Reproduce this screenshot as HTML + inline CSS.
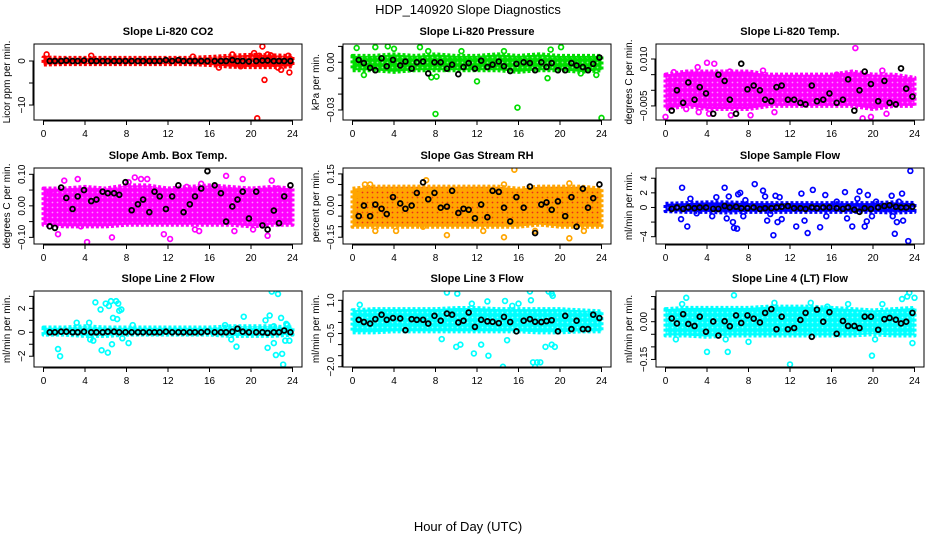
<!DOCTYPE html>
<html><head><meta charset="utf-8">
<style>
html,body{margin:0;padding:0;background:#fff;}
svg{display:block;font-family:"Liberation Sans",sans-serif;}
</style></head>
<body>
<svg id="chart" width="936" height="540" viewBox="0 0 936 540" xmlns="http://www.w3.org/2000/svg">
<defs id="defs"></defs>
<text x="468" y="14" text-anchor="middle" font-size="13">HDP_140920  Slope Diagnostics</text>
<text x="468" y="531" text-anchor="middle" font-size="13">Hour of Day (UTC)</text>
</svg>
<script>
// ---- shared data ----
const xTicks = [0,4,8,12,16,20,24];
const bandHours = [0,2,4,6,8,10,12,14,16,18,20,22,24];
const blackX = [0.6,1.1,1.7,2.2,2.8,3.3,3.9,4.6,5.1,5.7,6.2,6.8,7.3,7.9,8.5,9.1,9.6,10.2,10.7,11.2,11.8,12.4,13.0,13.5,14.1,14.6,15.2,15.8,16.5,17.1,17.6,18.2,18.7,19.2,19.8,20.5,21.1,21.6,22.2,22.7,23.2,23.8];

// ---- panel 1: CO2 ----
const p1BandLo = [-0.8,-0.7,-0.7,-0.7,-0.7,-0.7,-0.7,-0.7,-0.9,-1.3,-1.4,-1.4,-1.2];
const p1BandHi = [0.8,0.7,0.7,0.7,0.7,0.7,0.7,0.7,0.9,1.2,1.4,1.3,1.1];
const p1OutX = [0.3,4.6,14.4,16.9,18.2,19.0,20.3,20.6,20.8,21.1,21.3,21.6,21.9,22.6,22.9,23.6,23.7];
const p1OutY = [1.5,1.2,1.0,-1.5,1.5,-1.2,1.8,-13.0,1.2,3.3,-4.3,1.5,1.3,-1.5,-2.0,1.2,-2.6];
const p1BlackY = [0,0,0,0.1,0,0,0.1,0,0,0,0,0,0,0,0,0,0,0,0,0,0.2,0,0.2,0,0,0,0,0,0,0,0,0.2,0,0,-0.1,0,0.1,0.1,0,0,0,0];

// ---- panel 2: Pressure ----
const p2BandLo = [-0.005,-0.005,-0.006,-0.005,-0.005,-0.005,-0.005,-0.005,-0.006,-0.005,-0.005,-0.006,-0.005];
const p2BandHi = [0.004,0.004,0.005,0.004,0.005,0.004,0.004,0.005,0.004,0.005,0.004,0.004,0.004];
const p2OutX = [0.4,1.1,2.2,3.4,4.0,6.5,7.3,7.6,8.1,12.0,8.0,15.9,24.0,18.8,20.1,19.1,23.5,22.0,10.5,14.6];
const p2OutY = [0.009,-0.008,0.0095,0.010,0.0085,0.0095,0.007,-0.0095,-0.009,-0.012,-0.0325,-0.0285,-0.035,-0.010,0.0095,0.008,-0.008,-0.007,0.007,0.007];
const p2BlackY = [0.0015,-0.0005,-0.0035,-0.005,0.0025,-0.0025,0.0015,-0.002,0.0005,-0.004,0.0,0.0005,-0.007,0.0,0.0,-0.004,-0.0015,-0.0075,-0.003,-0.0005,-0.004,0.001,-0.003,-0.0015,0.0005,-0.0025,-0.0055,-0.001,0.0,-0.0005,-0.005,0.0,-0.003,-0.0005,-0.005,-0.005,-0.0005,-0.002,-0.003,-0.005,-0.001,0.003];

// ---- panel 3: Li-820 Temp ----
const p3BandLo = [-0.006,-0.005,-0.006,-0.006,-0.006,-0.005,-0.005,-0.005,-0.005,-0.005,-0.006,-0.005,-0.005];
const p3BandHi = [0.005,0.006,0.006,0.006,0.006,0.005,0.005,0.005,0.005,0.006,0.005,0.005,0.004];
const p3OutX = [0.0,0.8,2.0,3.1,3.2,4.0,4.2,4.7,6.2,6.3,8.2,9.4,10.5,16.5,18.3,19.0,19.8,20.9,21.3];
const p3OutY = [-0.0085,0.0058,-0.006,0.0074,-0.007,0.0088,-0.0075,0.0085,0.006,-0.008,-0.008,0.0063,-0.007,0.005,0.0135,-0.009,-0.0085,0.0063,-0.0075];
const p3BlackY = [-0.0065,0.0,-0.004,0.0025,-0.003,0.001,-0.001,-0.0075,0.005,0.003,-0.003,-0.0075,0.0085,0.0003,0.0015,0.0,-0.003,-0.0035,0.001,0.0015,-0.003,-0.003,-0.004,-0.0045,0.0015,-0.0035,-0.003,-0.001,-0.004,-0.003,0.0035,-0.0065,0.0,0.006,0.002,-0.0035,0.003,-0.004,-0.0045,0.007,0.0005,-0.002];

// ---- panel 4: Amb. Box Temp ----
const p4BandLo = [-0.06,-0.065,-0.065,-0.065,-0.06,-0.06,-0.06,-0.06,-0.06,-0.06,-0.065,-0.06,-0.06];
const p4BandHi = [0.055,0.055,0.06,0.055,0.065,0.065,0.055,0.06,0.065,0.06,0.055,0.06,0.055];
const p4OutX = [0.6,1.4,2.0,3.3,3.6,4.2,6.6,8.8,9.4,10.0,11.6,12.2,14.6,15.0,15.2,17.6,18.4,19.2,20.2,21.6,22.0,22.6,8.2,13.8];
const p4OutY = [0.045,-0.09,0.08,0.085,-0.065,-0.115,-0.1,0.09,0.085,0.085,-0.09,-0.105,-0.075,-0.08,0.07,0.095,-0.08,0.085,-0.075,-0.095,0.08,0.055,0.075,0.06];
const p4BlackY = [-0.065,-0.07,0.058,0.025,-0.01,0.03,0.05,0.015,0.02,0.045,0.04,0.04,0.035,0.075,-0.014,0.005,0.02,-0.02,0.045,0.03,-0.01,0.03,0.065,-0.02,0.005,0.03,0.055,0.11,0.065,0.04,-0.05,-0.002,0.02,0.045,-0.04,0.045,-0.062,-0.075,-0.015,-0.055,0.03,0.065];

// ---- panel 5: Gas Stream RH ----
const p5BandLo = [-0.1,-0.1,-0.1,-0.1,-0.1,-0.1,-0.1,-0.1,-0.1,-0.09,-0.1,-0.1,-0.1];
const p5BandHi = [0.08,0.09,0.09,0.09,0.09,0.09,0.09,0.09,0.08,0.09,0.09,0.09,0.08];
const p5OutX = [0.5,1.2,1.7,2.2,4.2,6.8,7.1,9.1,12.6,14.6,14.6,15.6,17.6,20.9,20.9,22.3];
const p5OutY = [0.05,0.1,0.1,-0.12,-0.12,-0.1,0.12,-0.14,-0.12,0.1,-0.15,0.17,-0.12,0.105,-0.155,-0.12];
const p5BlackY = [-0.05,0.0,-0.05,0.005,-0.015,-0.04,0.04,0.01,-0.015,0.0,0.06,0.11,0.03,0.06,-0.01,-0.005,0.07,-0.035,-0.015,-0.02,-0.06,0.005,-0.055,0.07,0.065,-0.01,-0.075,0.04,-0.01,0.09,-0.13,0.005,0.015,-0.02,0.02,-0.05,0.04,-0.1,0.08,-0.01,0.035,0.1];

// ---- panel 6: Sample Flow ----
const p6BandLo = [-0.5,-0.6,-0.6,-0.7,-0.6,-0.6,-0.6,-0.6,-0.6,-0.6,-0.6,-0.7,-0.6];
const p6BandHi = [0.5,0.6,0.7,0.7,0.6,0.6,0.6,0.6,0.6,0.6,0.6,0.7,0.6];
const p6OutX = [1.5,1.6,2.1,2.4,3.0,4.5,4.9,5.7,5.9,6.1,6.5,6.6,6.9,7.0,7.2,7.5,7.7,8.6,9.4,9.6,9.8,10.1,10.4,10.6,10.8,11.0,11.2,12.6,13.1,13.4,13.7,14.2,14.9,15.4,15.5,16.5,17.3,17.5,18.0,18.5,18.7,19.2,19.4,19.5,19.9,20.3,21.8,21.9,22.1,22.3,22.5,22.8,22.9,23.4,23.6];
const p6OutY = [-1.6,2.7,-2.6,1.2,-0.8,-1.2,1.4,2.7,-1.5,1.5,-2.0,-2.8,-2.9,1.8,2.0,-1.2,1.0,3.2,2.3,1.5,-1.8,-0.9,-3.8,1.6,-2.0,1.4,-1.6,-2.6,1.9,-1.8,-3.5,2.4,-2.7,1.7,-1.2,0.8,2.1,-1.5,-2.6,1.2,2.2,-2.6,-1.9,1.7,-1.2,0.8,1.6,-1.2,-3.6,-2.0,0.8,1.9,-1.8,-4.6,5.0];
const p6BlackY = [-0.2,0.0,-0.2,0.0,-0.1,0.0,0.0,-0.2,-0.2,0.2,0.0,0.1,-0.1,-0.1,0.0,-0.2,-0.1,-0.1,0.0,0.1,0.2,-0.1,-0.1,-0.2,0.0,-0.1,0.0,0.0,-0.1,-0.2,0.0,-0.3,-0.6,-0.1,-0.2,0.0,0.2,0.3,0.1,0.0,0.0,0.1];

// ---- panel 7: Line 2 Flow ----
const p7BandLo = [-0.2,-0.2,-0.3,-0.3,-0.2,-0.2,-0.2,-0.2,-0.2,-0.3,-0.3,-0.3,-0.2];
const p7BandHi = [0.4,0.4,0.5,0.4,0.4,0.4,0.4,0.4,0.4,0.5,0.5,0.5,0.4];
const p7OutX = [1.4,1.6,3.2,4.4,4.5,4.8,5.0,5.5,5.6,6.0,6.2,6.3,6.5,6.6,6.7,7.0,7.1,7.2,7.3,7.5,7.6,8.2,8.6,17.5,18.1,18.6,19.3,21.4,21.6,21.8,22.0,22.2,22.2,22.4,22.6,22.9,23.0,23.1,23.3,23.4,23.5,23.7];
const p7OutY = [-1.4,-2.0,0.8,0.8,-0.6,-0.7,2.5,1.9,-1.5,2.4,-1.7,2.2,2.6,-1.0,1.2,2.6,1.1,2.4,1.8,1.9,-0.5,-0.9,0.6,0.6,-0.6,-1.2,1.3,1.0,-1.3,1.4,3.4,-0.9,0.5,-1.9,3.2,1.2,-1.8,-2.7,-0.7,0.7,0.6,-0.7];
const p7BlackY = [0,0,0.05,0.05,0,0,0.05,0,0,0,0.05,0.05,0,0,0,0,0,0,0,0,0.05,0,0,0,0,0,0,0.05,0,0,0,0.05,0.3,0.05,0,0,0,-0.05,0,0,0.15,0];

// ---- panel 8: Line 3 Flow ----
const p8BandLo = [-0.45,-0.45,-0.4,-0.4,-0.4,-0.4,-0.4,-0.4,-0.4,-0.45,-0.45,-0.4,-0.4];
const p8BandHi = [0.55,0.6,0.6,0.6,0.6,0.65,0.65,0.6,0.6,0.6,0.6,0.55,0.5];
const p8OutX = [0.7,8.6,9.1,10.0,10.1,10.4,11.5,11.7,12.4,13.0,13.1,14.5,14.7,14.9,15.4,16.0,17.1,17.2,17.4,17.6,17.8,18.1,18.4,18.6,18.9,19.2,19.2,19.3,19.5];
const p8OutY = [0.8,-0.75,1.35,-1.1,1.3,-1.0,0.85,-1.4,-1.0,0.95,-1.5,-2.0,0.97,-0.8,0.75,0.85,1.4,1.0,-1.8,-2.0,-1.8,-1.8,-2.2,-1.1,1.4,1.3,-1.0,1.2,-1.1];
const p8BlackY = [0.12,0.02,-0.05,0.15,0.35,0.12,0.2,0.18,-0.35,0.15,0.12,0.12,-0.05,0.3,0.08,0.4,0.35,0.0,0.08,0.45,-0.2,0.12,0.05,0.03,-0.03,0.25,0.02,-0.4,0.08,0.15,0.03,0.02,0.06,0.1,-0.4,0.3,-0.3,0.08,-0.3,-0.3,0.35,0.2];

// ---- panel 9: Line 4 (LT) Flow ----
const p9BandLo = [-0.055,-0.055,-0.06,-0.055,-0.055,-0.055,-0.055,-0.055,-0.055,-0.055,-0.05,-0.055,-0.055];
const p9BandHi = [0.05,0.055,0.055,0.055,0.055,0.06,0.06,0.06,0.055,0.05,0.045,0.05,0.055];
const p9OutX = [1.0,1.6,2.0,4.0,5.8,6.0,6.6,8.0,10.5,12.0,14.0,15.6,17.6,19.9,20.2,20.9,22.8,23.3,23.5,23.8,24.0];
const p9OutY = [-0.07,0.07,0.095,-0.12,-0.07,-0.12,0.105,-0.08,0.075,-0.17,0.075,0.06,0.07,-0.135,-0.07,0.07,0.09,0.10,0.115,-0.085,0.095];
const p9BlackY = [0.013,-0.007,0.03,-0.009,-0.017,0.02,-0.04,0.001,-0.055,0.002,-0.018,0.025,-0.005,0.025,0.012,-0.003,0.035,0.05,-0.03,0.02,-0.03,-0.025,0.007,0.035,-0.06,0.048,0.0,0.038,-0.048,0.003,-0.017,-0.017,-0.025,0.02,0.02,-0.032,0.01,0.015,0.008,-0.007,0.0,0.035];

// ---- layout (presentation only) ----
const SVGNS = "http://www.w3.org/2000/svg";
const svg = document.getElementById('chart');
const defs = document.getElementById('defs');
const colLeft = [34, 343, 656];
const rowTop = [44, 168, 291];
const boxW = 268, boxH = 76;

const panels = [
 {name:'co2', title:'Slope Li-820 CO2', ylab:'Licor ppm per min.', col:0,row:0, ymin:-13.4, ymax:3.86, ticks:[-10,-5,0], labels:{'-10':'\u221210','0':'0'}, color:'#ff0000', dot:'#ff0000', lo:p1BandLo, hi:p1BandHi, ox:p1OutX, oy:p1OutY, by:p1BlackY},
 {name:'pressure', title:'Slope Li-820 Pressure', ylab:'kPa per min.', col:1,row:0, ymin:-0.0363, ymax:0.0115, ticks:[-0.03,-0.02,-0.01,0,0.01], labels:{'-0.03':'\u22120.03','0':'0.00'}, color:'#00dd00', dot:'#00cc00', lo:p2BandLo, hi:p2BandHi, ox:p2OutX, oy:p2OutY, by:p2BlackY},
 {name:'li820-temp', title:'Slope Li-820 Temp.', ylab:'degrees C per min.', col:2,row:0, ymin:-0.0095, ymax:0.0148, ticks:[-0.005,0,0.005,0.01], labels:{'-0.005':'\u22120.005','0.01':'0.010'}, color:'#ff00ff', dot:'#ff00ff', lo:p3BandLo, hi:p3BandHi, ox:p3OutX, oy:p3OutY, by:p3BlackY},
 {name:'amb-box-temp', title:'Slope Amb. Box Temp.', ylab:'degrees C per min.', col:0,row:1, ymin:-0.121, ymax:0.12, ticks:[-0.1,-0.05,0,0.05,0.1], labels:{'-0.1':'\u22120.10','0':'0.00','0.1':'0.10'}, color:'#ff00ff', dot:'#ff00ff', lo:p4BandLo, hi:p4BandHi, ox:p4OutX, oy:p4OutY, by:p4BlackY},
 {name:'gas-stream-rh', title:'Slope Gas Stream RH', ylab:'percent per min.', col:1,row:1, ymin:-0.182, ymax:0.178, ticks:[-0.15,-0.1,-0.05,0,0.05,0.1,0.15], labels:{'-0.15':'\u22120.15','0':'0.00','0.15':'0.15'}, color:'#ffa500', dot:'#e8101a', lo:p5BandLo, hi:p5BandHi, ox:p5OutX, oy:p5OutY, by:p5BlackY},
 {name:'sample-flow', title:'Slope Sample Flow', ylab:'ml/min per min.', col:2,row:1, ymin:-5.0, ymax:5.4, ticks:[-4,-2,0,2,4], labels:{'-4':'\u22124','0':'0','2':'2','4':'4'}, color:'#0000ff', dot:'#0000ff', lo:p6BandLo, hi:p6BandHi, ox:p6OutX, oy:p6OutY, by:p6BlackY},
 {name:'line2-flow', title:'Slope Line 2 Flow', ylab:'ml/min per min.', col:0,row:2, ymin:-2.9, ymax:3.45, ticks:[-2,-1,0,1,2,3], labels:{'-2':'\u22122','0':'0','2':'2'}, color:'#00ffff', dot:'#00e8e8', lo:p7BandLo, hi:p7BandHi, ox:p7OutX, oy:p7OutY, by:p7BlackY},
 {name:'line3-flow', title:'Slope Line 3 Flow', ylab:'ml/min per min.', col:1,row:2, ymin:-2.01, ymax:1.42, ticks:[-2,-1.5,-1,-0.5,0,0.5,1], labels:{'-2':'\u22122.0','-0.5':'\u22120.5','1':'1.0'}, color:'#00ffff', dot:'#00e8e8', lo:p8BandLo, hi:p8BandHi, ox:p8OutX, oy:p8OutY, by:p8BlackY},
 {name:'line4-flow', title:'Slope Line 4 (LT) Flow', ylab:'ml/min per min.', col:2,row:2, ymin:-0.18, ymax:0.122, ticks:[-0.15,-0.1,-0.05,0,0.05,0.1], labels:{'-0.15':'\u22120.15','0':'0.00'}, color:'#00ffff', dot:'#00e8e8', lo:p9BandLo, hi:p9BandHi, ox:p9OutX, oy:p9OutY, by:p9BlackY}
];

function mk(tag, attrs, parent){
  const e = document.createElementNS(SVGNS, tag);
  for (const k in attrs) e.setAttribute(k, attrs[k]);
  (parent||svg).appendChild(e);
  return e;
}

panels.forEach(p => {
  const L = colLeft[p.col], T = rowTop[p.row];
  const x0 = L + 9.5, xs = (boxW - 19) / 24;
  const X = h => x0 + h * xs;
  const Y = v => T + (p.ymax - v) / (p.ymax - p.ymin) * boxH;

  // ring-texture pattern for dense cloud
  const pat = mk('pattern', {id:'pat-'+p.name, width:'5', height:'5', patternUnits:'userSpaceOnUse'}, defs);
  mk('rect', {x:0, y:0, width:5, height:5, fill:p.color}, pat);
  mk('circle', {cx:2.5, cy:2.5, r:0.9, fill:(p.name==='gas-stream-rh'?p.dot:'#ffffff'), 'fill-opacity':(p.name==='gas-stream-rh'?'0.8':'0.55')}, pat);

  const g = mk('g', {});
  
  

  const clipId = 'clip-' + p.name;
  const cp = mk('clipPath', {id: clipId}, g);
  mk('rect', {x: L, y: T, width: boxW, height: boxH}, cp);

  const t = mk('text', {x: L + boxW/2, y: T - 9, 'text-anchor':'middle', 'font-size':'11', 'font-weight':'bold'}, g);
  t.textContent = p.title;
  
  

  const yl = mk('text', {x: 0, y: 0, 'text-anchor':'middle', 'font-size':'10', transform:`translate(${L-24},${T+boxH/2}) rotate(-90)`}, g);
  yl.textContent = p.ylab;
  
  

  const plot = mk('g', {'clip-path': `url(#${clipId})`}, g);
  
  

  // dense cloud band
  let pts = [];
  bandHours.forEach((h,i) => pts.push(X(h)+','+Y(p.hi[i])));
  for (let i = bandHours.length-1; i >= 0; i--) pts.push(X(bandHours[i])+','+Y(p.lo[i]));
  const band = mk('polygon', {points: pts.join(' '), fill: `url(#pat-${p.name})`, stroke: p.color, 'stroke-width':'4', 'stroke-dasharray':'3 2', 'stroke-linejoin':'round'}, plot);
  
  

  // colored outliers
  p.ox.forEach((h,i) => {
    const c = mk('circle', {cx: X(h), cy: Y(p.oy[i]), r: 2.4, fill:'none', stroke: p.color, 'stroke-width':'1.7'}, plot);
    
    
  });

  // black points
  blackX.forEach((h,i) => {
    const c = mk('circle', {cx: X(h), cy: Y(p.by[i]), r: 2.4, fill:'none', stroke:'#000', 'stroke-width':'1.8'}, plot);
    
    
  });

  // box
  const box = mk('rect', {x: L, y: T, width: boxW, height: boxH, fill:'none', stroke:'#000', 'stroke-width':'1'}, g);
  
  

  // x axis
  const xa = mk('g', {}, g);
  
  
  mk('line', {x1: X(0), x2: X(24), y1: T+boxH+1, y2: T+boxH+1, stroke:'#000'}, xa);
  xTicks.forEach(v => {
    mk('line', {x1: X(v), x2: X(v), y1: T+boxH, y2: T+boxH+5, stroke:'#000'}, xa);
    const tl = mk('text', {x: X(v), y: T+boxH+17, 'text-anchor':'middle', 'font-size':'10'}, xa);
    tl.textContent = v;
    
    
  });

  // y axis
  const ya = mk('g', {}, g);
  
  
  mk('line', {x1: L-1, x2: L-1, y1: Y(p.ticks[0]), y2: Y(p.ticks[p.ticks.length-1]), stroke:'#000'}, ya);
  p.ticks.forEach(v => {
    mk('line', {x1: L-5, x2: L, y1: Y(v), y2: Y(v), stroke:'#000'}, ya);
    const key = String(v);
    if (p.labels[key] !== undefined) {
      const tl = mk('text', {x:0, y:0, 'text-anchor':'middle', 'font-size':'10', transform:`translate(${L-9},${Y(v)}) rotate(-90)`}, ya);
      tl.textContent = p.labels[key];
      
      
    }
  });
});
</script>
</body></html>
